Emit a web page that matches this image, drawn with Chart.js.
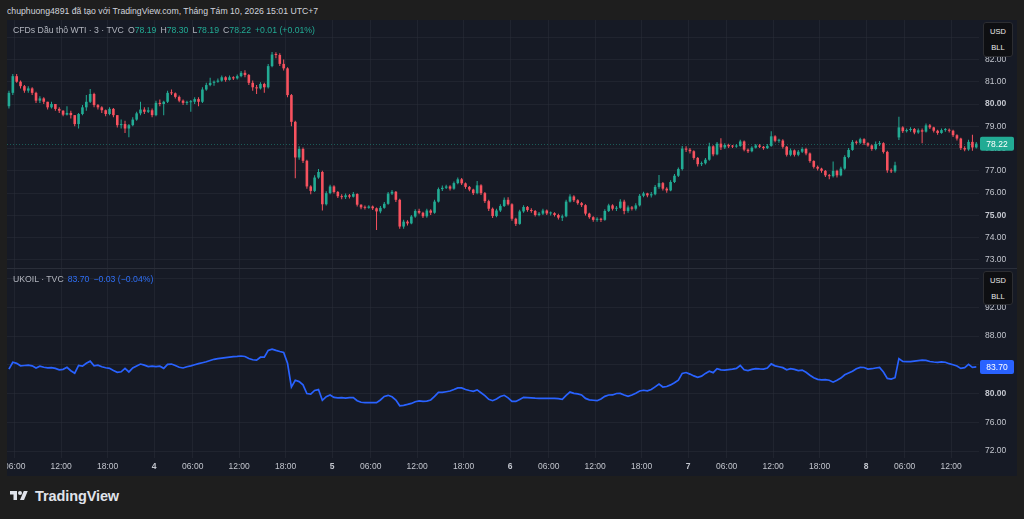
<!DOCTYPE html>
<html><head><meta charset="utf-8">
<script src="https://cdn.jsdelivr.net/npm/chart.js@4.4.1/dist/chart.umd.min.js"></script>
<style>
html,body{margin:0;padding:0;background:#1e1e1e;}
body{width:1024px;height:519px;position:relative;overflow:hidden;font-family:"Liberation Sans",Arial,sans-serif;}
.abs{position:absolute;}
#hdr{left:7px;top:6px;font-size:8.7px;line-height:10px;color:#d1d4dc;white-space:nowrap;}
#frame{left:7px;top:20px;width:1010px;height:456px;background:#161a25;}
canvas{position:absolute;}
.leg{font-size:8.7px;line-height:10px;white-space:nowrap;color:#b2b5be;}
.leg span{margin-left:4px;}
.unit{left:983px;width:30px;background:#0e0f12;border:1px solid #2c2d31;border-radius:3px;color:#e8e8e8;font-size:7.5px;text-align:center;box-sizing:border-box;line-height:16px;padding-top:1px;}
#sep{left:7px;top:268px;width:1010px;height:1px;background:#2a2e39;}
#logo{left:8px;top:488px;display:flex;align-items:center;color:#e0e3eb;font-size:14.5px;font-weight:bold;letter-spacing:-0.1px;}
</style></head>
<body>
<div id="hdr" class="abs">chuphuong4891 đã tạo với TradingView.com, Tháng Tám 10, 2026 15:01 UTC+7</div>
<div id="frame" class="abs"></div>
<canvas id="top" width="1010" height="248" style="left:7px;top:20px;width:1010px;height:248px"></canvas>
<div id="sep" class="abs"></div>
<canvas id="bot" width="1010" height="207" style="left:7px;top:269px;width:1010px;height:207px"></canvas>
<div class="abs leg" style="left:13px;top:25px">CFDs Dầu thô WTI · 3 · TVC<span>O<b style="font-weight:normal;color:#22ab94">78.19</b></span><span>H<b style="font-weight:normal;color:#22ab94">78.30</b></span><span>L<b style="font-weight:normal;color:#22ab94">78.19</b></span><span>C<b style="font-weight:normal;color:#22ab94">78.22</b></span><span style="color:#22ab94">+0.01 (+0.01%)</span></div>
<div class="abs leg" style="left:13px;top:274px">UKOIL · TVC<span style="color:#2f6ff5">83.70</span><span style="color:#2f6ff5">−0.03 (−0.04%)</span></div>
<div class="abs unit" style="top:22px;height:35px">USD<br>BLL</div>
<div class="abs unit" style="top:271px;height:34px">USD<br>BLL</div>
<div id="logo" class="abs"><svg width="22" height="14" viewBox="0 0 36 28" style="margin-right:5px"><path d="M14 22H7V11H0V4h14v18z" fill="#e0e3eb"/><circle cx="20" cy="8" r="4" fill="#e0e3eb"/><path d="M28 22h-8l7.5-18h8L28 22z" fill="#e0e3eb"/></svg>TradingView</div>
<script>
// ---- time axis (trading hours from day-3 00:00) ----
const tickHours = [5,11,17,23,28,34,40,46,51,57,63,69,74,80,86,92,97,103,109,115,120,126];
const tickLabels = ['06:00','12:00','18:00','4','06:00','12:00','18:00','5','06:00','12:00','18:00','6','06:00','12:00','18:00','7','06:00','12:00','18:00','8','06:00','12:00'];
const barStart = 4.25, barStep = 0.5;

// ---- WTI candles (30-min aggregation) ----
const topOpen = [
79.90,80.50,81.25,81.00,80.80,80.60,80.70,80.50,80.15,80.25,
80.10,79.85,80.00,79.78,79.70,79.52,79.60,79.50,79.10,79.55,
79.85,80.10,80.45,79.95,79.85,79.72,79.55,79.78,79.50,79.05,
79.10,78.90,79.05,79.30,79.58,79.75,79.65,79.72,79.50,80.05,
80.00,80.10,80.50,80.48,80.32,80.15,80.05,80.08,80.10,80.22,
80.10,80.65,80.85,80.95,81.00,81.05,81.20,81.08,81.20,81.15,
81.25,81.40,81.30,80.95,80.75,80.70,80.90,80.75,81.70,82.22,
82.20,81.80,81.60,80.40,79.20,77.60,77.98,77.45,76.30,76.10,
76.70,76.95,75.50,76.00,76.30,76.05,75.86,75.82,75.90,75.84,
75.96,75.48,75.36,75.34,75.40,75.32,75.18,75.34,75.52,75.98,
76.06,75.70,74.50,74.72,74.64,74.95,75.20,75.12,74.96,75.22,
75.12,75.62,76.18,76.24,76.30,76.20,76.45,76.62,76.44,76.28,
76.16,76.00,76.35,76.00,75.64,75.30,74.97,75.22,75.42,75.70,
75.50,74.85,74.62,75.18,75.38,75.24,75.20,75.02,75.08,75.22,
75.09,75.10,75.02,74.90,74.96,75.62,75.85,75.68,75.55,75.46,
75.08,74.92,74.80,74.85,74.80,75.20,75.45,75.30,75.34,75.62,
75.20,75.36,75.30,75.45,75.88,75.99,75.90,75.95,76.28,76.45,
76.20,76.12,76.50,76.78,77.08,78.00,77.95,77.88,77.58,77.30,
77.34,77.50,78.10,77.74,78.22,78.05,78.16,78.10,78.09,78.12,
78.32,77.95,77.88,78.04,78.14,78.08,78.02,78.12,78.55,78.35,
78.36,78.08,77.72,77.92,77.72,77.86,77.98,77.78,77.44,77.18,
77.10,77.00,76.80,76.76,77.00,76.80,77.10,77.62,77.94,78.30,
78.26,78.42,78.24,78.14,77.98,78.20,78.24,77.85,77.02,76.98,
78.50,78.95,78.78,78.83,78.88,78.72,78.82,78.76,79.04,78.95,
78.80,78.70,78.83,78.84,78.80,78.60,78.45,78.02,77.96,78.30,
78.05];
const topHigh = [
80.60,81.35,81.35,81.05,80.85,80.80,80.75,80.55,80.35,80.30,
80.10,80.10,80.00,79.85,79.72,79.90,79.70,79.50,79.60,79.95,
80.40,80.67,80.50,80.00,79.90,79.75,79.85,79.82,79.50,79.30,
79.25,79.10,79.40,79.65,80.10,79.85,79.85,79.80,80.15,80.20,
80.15,80.60,80.65,80.52,80.38,80.20,80.15,80.18,80.30,80.30,
80.75,80.95,81.18,81.05,81.15,81.28,81.25,81.28,81.25,81.32,
81.48,81.52,81.35,81.05,80.85,80.98,80.95,81.80,82.33,82.32,
82.28,82.00,81.65,80.45,79.25,78.10,78.05,77.50,76.35,76.80,
77.08,77.00,76.08,76.38,76.35,76.10,75.95,75.98,75.96,76.05,
76.00,75.50,75.45,75.46,75.44,75.36,75.42,75.60,76.05,76.14,
76.10,75.75,74.80,74.78,75.02,75.28,75.30,75.16,75.30,75.28,
75.70,76.25,76.34,76.38,76.35,76.52,76.70,76.68,76.48,76.32,
76.20,76.55,76.40,76.05,75.70,75.35,75.30,75.50,75.80,75.82,
75.55,74.90,75.25,75.46,75.42,75.32,75.24,75.15,75.30,75.26,
75.18,75.14,75.08,75.04,75.70,75.95,75.90,75.72,75.60,75.50,
75.12,74.96,74.92,74.90,75.28,75.52,75.50,75.42,75.72,75.70,
75.44,75.42,75.55,75.96,76.06,76.02,76.05,76.36,76.81,76.50,
76.26,76.58,76.86,77.15,78.12,78.10,78.02,77.92,77.62,77.42,
77.58,78.26,78.15,78.30,78.46,78.24,78.22,78.16,78.20,78.40,
78.36,78.00,78.10,78.20,78.20,78.12,78.20,78.78,78.60,78.44,
78.42,78.12,78.00,77.96,77.94,78.06,78.04,77.82,77.48,77.24,
77.14,77.04,76.86,77.42,77.05,77.18,77.70,78.02,78.38,78.36,
78.48,78.46,78.28,78.18,78.32,78.34,78.28,77.90,77.10,77.41,
79.43,79.00,78.90,78.96,78.92,78.90,78.90,79.12,79.10,78.98,
78.84,78.90,78.92,78.90,78.84,78.64,78.48,78.10,78.40,78.62,
78.30];
const topLow = [
79.80,80.40,80.95,80.70,80.50,80.50,80.40,80.05,80.05,80.00,
79.75,79.80,79.70,79.60,79.45,79.48,79.35,79.00,78.90,79.50,
79.70,80.05,79.85,79.75,79.60,79.45,79.50,79.40,78.95,78.90,
78.70,78.51,79.00,79.25,79.50,79.55,79.60,79.40,79.45,79.90,
79.50,80.05,80.40,80.25,80.08,79.95,79.95,79.65,80.00,79.90,
80.05,80.60,80.80,80.82,80.95,81.00,81.00,81.05,81.08,81.10,
81.20,81.20,80.85,80.60,80.45,80.65,80.50,80.70,81.65,82.05,
81.70,81.50,80.30,79.00,76.67,77.50,77.35,76.20,75.95,76.05,
76.65,75.22,75.45,75.95,75.98,75.78,75.72,75.74,75.76,75.80,
75.40,75.28,75.26,75.30,75.24,74.35,75.10,75.30,75.48,75.92,
75.60,74.40,74.40,74.55,74.60,74.90,75.05,74.88,74.90,75.02,
75.08,75.58,76.10,76.18,76.12,76.15,76.40,76.36,76.20,76.08,
75.92,75.95,75.92,75.56,75.20,74.88,74.92,75.15,75.38,75.45,
74.76,74.52,74.58,75.12,75.16,75.12,74.95,74.96,75.02,75.02,
75.00,74.95,74.82,74.75,74.92,75.58,75.60,75.48,75.38,75.00,
74.85,74.72,74.72,74.70,74.76,75.15,75.22,75.20,75.30,75.05,
75.12,75.22,75.22,75.40,75.82,75.82,75.80,75.90,76.20,76.12,
76.02,76.08,76.45,76.72,77.02,77.85,77.78,77.50,77.20,77.22,
77.28,77.45,77.66,77.70,77.94,77.98,78.02,78.02,78.04,78.08,
77.88,77.80,77.84,78.00,78.02,77.95,77.98,78.08,78.28,78.26,
78.00,77.64,77.66,77.64,77.66,77.80,77.70,77.36,77.10,77.02,
76.92,76.72,76.62,76.70,76.70,76.76,77.05,77.56,77.90,78.18,
78.20,78.16,78.08,77.90,77.92,78.12,77.78,76.92,76.90,76.92,
78.38,78.70,78.72,78.76,78.64,78.66,78.24,78.72,78.88,78.72,
78.62,78.66,78.76,78.72,78.52,78.36,77.94,77.88,77.90,77.90,
78.00];
const topClose = [
80.50,81.25,81.00,80.80,80.60,80.70,80.50,80.15,80.25,80.10,
79.85,80.00,79.78,79.70,79.52,79.60,79.50,79.10,79.55,79.85,
80.10,80.45,79.95,79.85,79.72,79.55,79.78,79.50,79.05,79.10,
78.90,79.05,79.30,79.58,79.75,79.65,79.72,79.50,80.05,80.00,
80.10,80.50,80.48,80.32,80.15,80.05,80.08,80.10,80.22,80.10,
80.65,80.85,80.95,81.00,81.05,81.20,81.08,81.20,81.15,81.25,
81.40,81.30,80.95,80.75,80.70,80.90,80.75,81.70,82.22,82.20,
81.80,81.60,80.40,79.20,77.60,77.98,77.45,76.30,76.10,76.70,
76.95,75.50,76.00,76.30,76.05,75.86,75.82,75.90,75.84,75.96,
75.48,75.36,75.34,75.40,75.32,75.18,75.34,75.52,75.98,76.06,
75.70,74.50,74.72,74.64,74.95,75.20,75.12,74.96,75.22,75.12,
75.62,76.18,76.24,76.30,76.20,76.45,76.62,76.44,76.28,76.16,
76.00,76.35,76.00,75.64,75.30,74.97,75.22,75.42,75.70,75.50,
74.85,74.62,75.18,75.38,75.24,75.20,75.02,75.08,75.22,75.09,
75.10,75.02,74.90,74.96,75.62,75.85,75.68,75.55,75.46,75.08,
74.92,74.80,74.85,74.80,75.20,75.45,75.30,75.34,75.62,75.20,
75.36,75.30,75.45,75.88,75.99,75.90,75.95,76.28,76.45,76.20,
76.12,76.50,76.78,77.08,78.00,77.95,77.88,77.58,77.30,77.34,
77.50,78.10,77.74,78.22,78.05,78.16,78.10,78.09,78.12,78.32,
77.95,77.88,78.04,78.14,78.08,78.02,78.12,78.55,78.35,78.36,
78.08,77.72,77.92,77.72,77.86,77.98,77.78,77.44,77.18,77.10,
77.00,76.80,76.76,77.00,76.80,77.10,77.62,77.94,78.30,78.26,
78.42,78.24,78.14,77.98,78.20,78.24,77.85,77.02,76.98,77.25,
78.95,78.78,78.83,78.88,78.72,78.82,78.76,79.04,78.95,78.80,
78.70,78.83,78.84,78.80,78.60,78.45,78.02,77.96,78.30,78.05,
78.22];

// ---- UKOIL line (30-min samples) ----
const ukoil = [
83.40,84.35,84.20,83.85,83.90,83.95,83.85,83.55,83.80,83.65,
83.58,83.60,83.50,83.30,83.36,83.64,83.17,82.82,83.90,83.80,
84.20,84.50,83.85,83.95,83.72,83.58,83.50,83.20,82.95,83.02,
83.50,83.00,83.55,83.82,84.10,83.95,83.75,83.82,83.74,83.80,
83.50,84.06,84.10,83.90,83.65,83.55,83.73,83.85,84.00,84.15,
84.28,84.42,84.60,84.76,84.85,84.92,85.00,85.06,85.12,85.16,
85.22,85.15,84.88,84.70,84.65,85.05,85.05,86.00,86.18,86.00,
85.84,85.70,84.20,80.90,81.85,81.66,81.20,80.00,79.92,80.42,
80.55,79.05,79.55,79.79,79.45,79.40,79.42,79.35,79.42,79.42,
79.00,78.78,78.72,78.72,78.72,78.72,79.10,79.60,79.75,79.55,
79.10,78.30,78.36,78.48,78.62,78.86,78.98,78.90,78.95,79.10,
79.60,80.16,80.16,80.25,80.35,80.55,80.78,80.78,80.56,80.42,
80.30,80.50,80.10,79.70,79.20,79.00,79.25,79.58,79.75,79.40,
78.90,78.90,79.18,79.47,79.43,79.40,79.35,79.33,79.33,79.33,
79.33,79.33,79.30,79.20,79.75,80.20,80.02,79.95,79.80,79.32,
79.12,79.06,79.00,79.25,79.60,79.79,79.80,80.00,80.02,79.80,
79.60,79.79,80.05,80.35,80.45,80.38,80.55,80.92,81.30,80.90,
80.98,81.20,81.50,81.86,82.80,82.92,82.70,82.45,82.26,82.42,
82.80,83.10,82.90,83.45,83.30,83.25,83.33,83.40,83.50,83.90,
83.30,83.20,83.36,83.47,83.42,83.40,83.55,84.12,83.85,83.72,
83.60,83.30,83.45,83.35,83.18,83.26,82.95,82.55,82.20,81.97,
81.90,81.94,81.85,81.58,81.85,82.15,82.60,82.85,83.10,83.45,
83.64,83.62,83.40,83.45,83.55,83.62,83.00,82.10,82.00,82.20,
84.85,84.45,84.43,84.43,84.50,84.58,84.64,84.60,84.45,84.38,
84.33,84.40,84.35,84.15,84.00,83.84,83.50,83.60,84.05,83.64,
83.70];

const wtiLast = 78.22, ukLast = 83.70;

// ---- styling ----
const FAM = '"Liberation Sans", Arial, sans-serif';
const UP = '#22ab94', DOWN = '#f7525f', BLUE = '#2962ff';
const GRID = 'rgba(42,46,57,0.55)', TXT = '#c3c6ce';
const xMin = 4.0, xMax = 129.6;

const times = topClose.map((_, i) => barStart + i * barStep);
const candleColors = topClose.map((c, i) => c >= topOpen[i] ? UP : DOWN);

function xScale(show) {
  return {
    type: 'linear', min: xMin, max: xMax, offset: false,
    grid: { color: GRID, drawTicks: false, offset: false },
    border: { display: false },
    ticks: {
      display: show, autoSkip: false, maxRotation: 0, padding: 4, color: TXT,
      font: ctx => ({ family: FAM, size: 8.5, weight: (tickLabels[ctx.index] || '').length <= 2 ? 'bold' : 'normal' }),
      callback: (v, i) => tickLabels[i]
    },
    afterBuildTicks: s => { s.ticks = tickHours.map(v => ({ value: v })); },
    afterFit: s => { s.height = show ? 18 : 0; s.paddingLeft = 0; s.paddingRight = 0; }
  };
}
function yScale(min, max, step) {
  return {
    position: 'right', min, max,
    grid: { color: GRID, drawTicks: false },
    border: { display: false },
    ticks: {
      stepSize: step, includeBounds: false, padding: 6, color: TXT,
      font: ctx => ({ family: FAM, size: 8.5, weight: ctx.tick && Math.round(ctx.tick.value) % 5 === 0 ? 'bold' : 'normal' }),
      callback: v => Number(v).toFixed(2)
    },
    afterFit: s => { s.width = 38; s.paddingTop = 0; s.paddingBottom = 0; }
  };
}

const priceTag = {
  id: 'priceTag',
  beforeDatasetsDraw(chart, a, o) {
    if (!o.dotted) return;
    const y = Math.round(chart.scales.y.getPixelForValue(o.value)) + 0.5;
    const ctx = chart.ctx; ctx.save();
    ctx.strokeStyle = o.color; ctx.globalAlpha = 0.45; ctx.lineWidth = 1; ctx.setLineDash([1, 2]);
    ctx.beginPath(); ctx.moveTo(chart.chartArea.left, y); ctx.lineTo(chart.chartArea.right, y); ctx.stroke();
    ctx.restore();
  },
  afterDraw(chart, a, o) {
    const y = chart.scales.y.getPixelForValue(o.value);
    const x = chart.chartArea.right + 1;
    const ctx = chart.ctx; ctx.save();
    ctx.fillStyle = o.color;
    ctx.beginPath(); ctx.roundRect(x, y - 7, 34, 14, 2); ctx.fill();
    ctx.fillStyle = '#ffffff'; ctx.font = '8.5px ' + FAM; ctx.textAlign = 'center'; ctx.textBaseline = 'middle';
    ctx.fillText(o.value.toFixed(2), x + 17, y + 0.5);
    ctx.restore();
  }
};

const common = {
  responsive: false, animation: false, events: [],
  layout: { padding: 0 },
};

new Chart(document.getElementById('top'), {
  type: 'bar',
  data: {
    datasets: [
      { data: times.map((t, i) => ({ x: t, y: [topOpen[i], topClose[i]] })), backgroundColor: candleColors,
        barThickness: 2.6, minBarLength: 1, grouped: false, borderWidth: 0, inflateAmount: 0 },
      { data: times.map((t, i) => ({ x: t, y: [topLow[i], topHigh[i]] })), backgroundColor: candleColors,
        barThickness: 1, grouped: false, borderWidth: 0, inflateAmount: 0 }
    ]
  },
  options: Object.assign({}, common, {
    scales: { x: xScale(false), y: yScale(72.64, 83.77, 1) },
    plugins: { legend: { display: false }, tooltip: { enabled: false }, priceTag: { value: wtiLast, color: UP, dotted: true } }
  }),
  plugins: [priceTag]
});

new Chart(document.getElementById('bot'), {
  type: 'line',
  data: {
    datasets: [
      { data: times.map((t, i) => ({ x: t, y: ukoil[i] })), borderColor: BLUE, borderWidth: 1.7,
        pointRadius: 0, tension: 0, fill: false }
    ]
  },
  options: Object.assign({}, common, {
    scales: { x: xScale(true), y: yScale(71.03, 97.32, 4) },
    plugins: { legend: { display: false }, tooltip: { enabled: false }, priceTag: { value: ukLast, color: BLUE, dotted: false } }
  }),
  plugins: [priceTag]
});
</script>
</body></html>
